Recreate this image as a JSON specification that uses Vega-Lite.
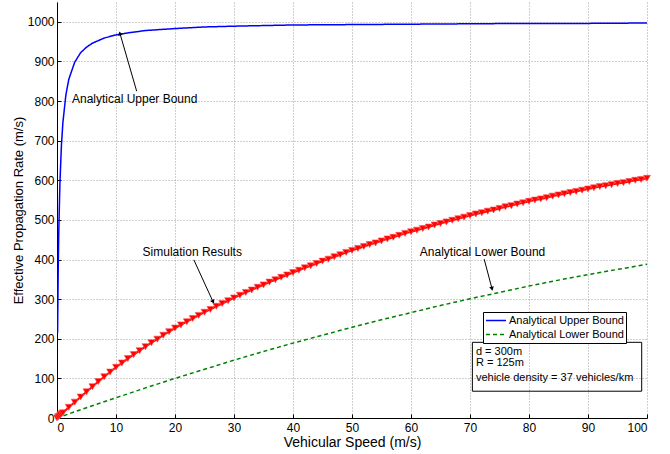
{
  "$schema": "https://vega.github.io/schema/vega-lite/v6.json",
  "width": 590,
  "height": 416,
  "autosize": {"type": "none"},
  "padding": {"left": 57, "top": 2, "right": 23, "bottom": 36},
  "background": "white",
  "config": {
    "view": {"stroke": null},
    "font": "Liberation Sans",
    "axis": {
      "domainColor": "black",
      "domainWidth": 1,
      "tickColor": "black",
      "tickSize": -4,
      "labelColor": "black",
      "labelFontSize": 12,
      "titleColor": "black",
      "titleFontWeight": "normal",
      "titleFontSize": 14,
      "gridColor": "#a0a0a0",
      "gridDash": [1, 2],
      "gridWidth": 1
    },
    "legend": {
      "orient": "none",
      "legendX": 426,
      "legendY": 310,
      "fillColor": "white",
      "strokeColor": "black",
      "padding": 2,
      "symbolType": "stroke",
      "symbolSize": 400,
      "symbolStrokeWidth": 1.5,
      "labelFontSize": 11,
      "labelColor": "black",
      "rowPadding": 1,
      "clipHeight": 13,
      "labelOffset": 2
    }
  },
  "datasets": {
    "upper": [
      {"v": 0.1, "r": 215}, {"v": 0.2, "r": 370}, {"v": 0.3, "r": 469}, {"v": 0.5, "r": 595},
      {"v": 0.75, "r": 688}, {"v": 1, "r": 746}, {"v": 1.5, "r": 815}, {"v": 2, "r": 855},
      {"v": 3, "r": 898}, {"v": 4, "r": 922}, {"v": 5, "r": 936}, {"v": 6, "r": 946},
      {"v": 8, "r": 959}, {"v": 10, "r": 967}, {"v": 12, "r": 972}, {"v": 15, "r": 978},
      {"v": 20, "r": 983}, {"v": 25, "r": 987}, {"v": 30, "r": 989}, {"v": 40, "r": 992},
      {"v": 50, "r": 993}, {"v": 60, "r": 994}, {"v": 70, "r": 995}, {"v": 80, "r": 996},
      {"v": 90, "r": 996}, {"v": 100, "r": 997}
    ],
    "lower": [
      {"v": 0, "r": 0}, {"v": 5, "r": 26}, {"v": 10, "r": 51}, {"v": 15, "r": 76},
      {"v": 20, "r": 100}, {"v": 25, "r": 123}, {"v": 30, "r": 146}, {"v": 35, "r": 168},
      {"v": 40, "r": 189}, {"v": 45, "r": 209}, {"v": 50, "r": 229}, {"v": 55, "r": 248},
      {"v": 60, "r": 266}, {"v": 65, "r": 284}, {"v": 70, "r": 301}, {"v": 75, "r": 317},
      {"v": 80, "r": 333}, {"v": 85, "r": 348}, {"v": 90, "r": 362}, {"v": 95, "r": 375},
      {"v": 100, "r": 388}
    ],
    "sim": [
      {"v": 0, "r": 0}, {"v": 0.2, "r": 3}, {"v": 0.4, "r": 5}, {"v": 0.6, "r": 8}, {"v": 0.8, "r": 11},
      {"v": 1, "r": 13}, {"v": 2, "r": 27}, {"v": 3, "r": 40}, {"v": 4, "r": 53}, {"v": 5, "r": 66},
      {"v": 6, "r": 79}, {"v": 7, "r": 92}, {"v": 8, "r": 104}, {"v": 9, "r": 116}, {"v": 10, "r": 128},
      {"v": 11, "r": 139}, {"v": 12, "r": 150}, {"v": 13, "r": 160}, {"v": 14, "r": 170}, {"v": 15, "r": 180},
      {"v": 16, "r": 190}, {"v": 17, "r": 199}, {"v": 18, "r": 209}, {"v": 19, "r": 218}, {"v": 20, "r": 227},
      {"v": 21, "r": 235}, {"v": 22, "r": 243}, {"v": 23, "r": 251}, {"v": 24, "r": 259}, {"v": 25, "r": 267},
      {"v": 26, "r": 274}, {"v": 27, "r": 282}, {"v": 28, "r": 289}, {"v": 29, "r": 296}, {"v": 30, "r": 303},
      {"v": 31, "r": 310}, {"v": 32, "r": 317}, {"v": 33, "r": 323}, {"v": 34, "r": 330}, {"v": 35, "r": 336},
      {"v": 36, "r": 343}, {"v": 37, "r": 349}, {"v": 38, "r": 355}, {"v": 39, "r": 361}, {"v": 40, "r": 367},
      {"v": 41, "r": 373}, {"v": 42, "r": 379}, {"v": 43, "r": 384}, {"v": 44, "r": 390}, {"v": 45, "r": 396},
      {"v": 46, "r": 401}, {"v": 47, "r": 407}, {"v": 48, "r": 412}, {"v": 49, "r": 418}, {"v": 50, "r": 423},
      {"v": 51, "r": 428}, {"v": 52, "r": 433}, {"v": 53, "r": 438}, {"v": 54, "r": 442}, {"v": 55, "r": 447},
      {"v": 56, "r": 452}, {"v": 57, "r": 456}, {"v": 58, "r": 461}, {"v": 59, "r": 466}, {"v": 60, "r": 470},
      {"v": 61, "r": 474}, {"v": 62, "r": 478}, {"v": 63, "r": 482}, {"v": 64, "r": 487}, {"v": 65, "r": 491},
      {"v": 66, "r": 495}, {"v": 67, "r": 499}, {"v": 68, "r": 503}, {"v": 69, "r": 507}, {"v": 70, "r": 511},
      {"v": 71, "r": 515}, {"v": 72, "r": 518}, {"v": 73, "r": 522}, {"v": 74, "r": 525}, {"v": 75, "r": 529},
      {"v": 76, "r": 533}, {"v": 77, "r": 536}, {"v": 78, "r": 540}, {"v": 79, "r": 543}, {"v": 80, "r": 547},
      {"v": 81, "r": 550}, {"v": 82, "r": 553}, {"v": 83, "r": 556}, {"v": 84, "r": 560}, {"v": 85, "r": 563},
      {"v": 86, "r": 566}, {"v": 87, "r": 569}, {"v": 88, "r": 572}, {"v": 89, "r": 575}, {"v": 90, "r": 578},
      {"v": 91, "r": 581}, {"v": 92, "r": 584}, {"v": 93, "r": 586}, {"v": 94, "r": 589}, {"v": 95, "r": 592},
      {"v": 96, "r": 594}, {"v": 97, "r": 597}, {"v": 98, "r": 600}, {"v": 99, "r": 602}, {"v": 100, "r": 605}
    ],
    "notes": [
      {"label": "Analytical Upper Bound", "v": 2.54, "r": 804},
      {"label": "Simulation Results", "v": 14.5, "r": 420},
      {"label": "Analytical Lower Bound", "v": 61.5, "r": 418}
    ],
    "arrows": [
      {"name": "upper", "v": 13.5, "r": 825, "v2": 10.7, "r2": 969},
      {"name": "sim", "v": 23.2, "r": 399, "v2": 26.4, "r2": 295},
      {"name": "lower", "v": 72.4, "r": 401, "v2": 73.7, "r2": 328}
    ],
    "box": [
      {"v": 70.4, "r": 191, "v2": 99.1, "r2": 67.6}
    ],
    "boxtext": [
      {"label": "d = 300m", "v": 71.0, "r": 165.6},
      {"label": "R = 125m", "v": 71.0, "r": 137.7},
      {"label": "vehicle density = 37 vehicles/km", "v": 71.0, "r": 101.3}
    ]
  },
  "layer": [
    {
      "data": {"name": "upper"},
      "transform": [{"calculate": "'Analytical Upper Bound'", "as": "series"}],
      "mark": {"type": "line", "strokeWidth": 1.5, "clip": true},
      "encoding": {
        "x": {"field": "v", "type": "quantitative",
              "scale": {"domain": [0, 100], "nice": false},
              "axis": {"title": "Vehicular Speed (m/s)", "values": [0,10,20,30,40,50,60,70,80,90,100], "grid": true, "labelPadding": 8, "titlePadding": 2}},
        "y": {"field": "r", "type": "quantitative",
              "scale": {"domain": [0, 1050], "nice": false},
              "axis": {"title": "Effective Propagation Rate (m/s)", "format": "d", "values": [0,100,200,300,400,500,600,700,800,900,1000], "grid": true, "labelPadding": 7, "titleFontSize": 13, "titlePadding": 2}},
        "color": {"field": "series", "type": "nominal",
                  "scale": {"domain": ["Analytical Upper Bound", "Analytical Lower Bound"], "range": ["#0000ff", "#008000"]},
                  "legend": {"title": null}},
        "strokeDash": {"field": "series", "type": "nominal",
                  "scale": {"domain": ["Analytical Upper Bound", "Analytical Lower Bound"], "range": [[1, 0], [4, 3]]},
                  "legend": {"title": null}}
      }
    },
    {
      "data": {"name": "lower"},
      "transform": [{"calculate": "'Analytical Lower Bound'", "as": "series"}],
      "mark": {"type": "line", "strokeWidth": 1.5},
      "encoding": {
        "x": {"field": "v", "type": "quantitative"},
        "y": {"field": "r", "type": "quantitative"},
        "color": {"field": "series", "type": "nominal"},
        "strokeDash": {"field": "series", "type": "nominal"}
      }
    },
    {
      "data": {"name": "sim"},
      "mark": {"type": "line", "color": "#ff0000", "strokeWidth": 2},
      "encoding": {
        "x": {"field": "v", "type": "quantitative"},
        "y": {"field": "r", "type": "quantitative"}
      }
    },
    {
      "data": {"name": "sim"},
      "mark": {"type": "point", "shape": "triangle-down", "filled": true, "color": "#ff0000", "size": 48, "opacity": 1, "stroke": "#ff5050", "strokeWidth": 0.6},
      "encoding": {
        "x": {"field": "v", "type": "quantitative"},
        "y": {"field": "r", "type": "quantitative"}
      }
    },
    {
      "data": {"name": "notes"},
      "mark": {"type": "text", "align": "left", "baseline": "middle", "fontSize": 12, "color": "black"},
      "encoding": {
        "x": {"field": "v", "type": "quantitative"},
        "y": {"field": "r", "type": "quantitative"},
        "text": {"field": "label"}
      }
    },
    {
      "data": {"name": "arrows"},
      "mark": {"type": "rule", "color": "black", "strokeWidth": 1},
      "encoding": {
        "x": {"field": "v", "type": "quantitative"},
        "y": {"field": "r", "type": "quantitative"},
        "x2": {"field": "v2"},
        "y2": {"field": "r2"}
      }
    },
    {
      "data": {"name": "arrows"},
      "transform": [{"filter": "datum.name == 'upper'"}],
      "mark": {"type": "point", "shape": "triangle", "filled": true, "color": "black", "size": 22, "opacity": 1, "angle": 344},
      "encoding": {
        "x": {"field": "v2", "type": "quantitative"},
        "y": {"field": "r2", "type": "quantitative"}
      }
    },
    {
      "data": {"name": "arrows"},
      "transform": [{"filter": "datum.name == 'sim'"}],
      "mark": {"type": "point", "shape": "triangle", "filled": true, "color": "black", "size": 22, "opacity": 1, "angle": 155},
      "encoding": {
        "x": {"field": "v2", "type": "quantitative"},
        "y": {"field": "r2", "type": "quantitative"}
      }
    },
    {
      "data": {"name": "arrows"},
      "transform": [{"filter": "datum.name == 'lower'"}],
      "mark": {"type": "point", "shape": "triangle", "filled": true, "color": "black", "size": 22, "opacity": 1, "angle": 165},
      "encoding": {
        "x": {"field": "v2", "type": "quantitative"},
        "y": {"field": "r2", "type": "quantitative"}
      }
    },
    {
      "data": {"name": "box"},
      "mark": {"type": "rect", "fill": null, "fillOpacity": 0, "stroke": "black", "strokeWidth": 1},
      "encoding": {
        "x": {"field": "v", "type": "quantitative"},
        "y": {"field": "r", "type": "quantitative"},
        "x2": {"field": "v2"},
        "y2": {"field": "r2"}
      }
    },
    {
      "data": {"name": "boxtext"},
      "mark": {"type": "text", "align": "left", "baseline": "middle", "fontSize": 11, "color": "black"},
      "encoding": {
        "x": {"field": "v", "type": "quantitative"},
        "y": {"field": "r", "type": "quantitative"},
        "text": {"field": "label"}
      }
    }
  ]
}
